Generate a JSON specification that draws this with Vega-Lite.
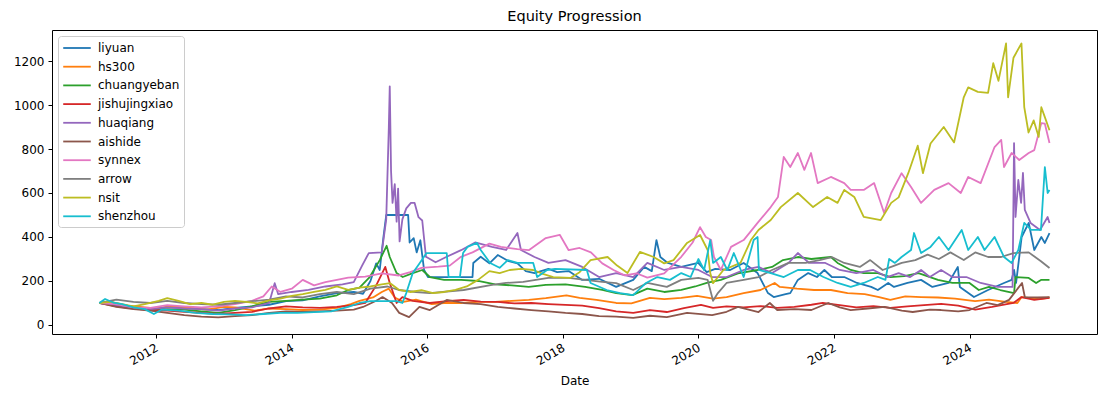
{
"$schema":"https://vega.github.io/schema/vega-lite/v6.json",
"width":1045,"height":304,
"autosize":{"type":"none"},
"padding":{"left":52,"top":30,"right":12,"bottom":61},
"background":"white",
"title":{"text":"Equity Progression","fontSize":14.5,"font":"DejaVu Sans","fontWeight":"normal","color":"#000","offset":6,"anchor":"middle"},
"config":{
 "view":{"stroke":"#000","strokeWidth":1},
 "axis":{"domain":false,"grid":false,"tickColor":"#000","tickSize":4,"tickWidth":1,"labelColor":"#000","labelFont":"DejaVu Sans","labelFontSize":12,"labelPadding":4,"titleFont":"DejaVu Sans","titleFontSize":12,"titleFontWeight":"normal","titleColor":"#000"},
 "legend":{"orient":"top-left","offset":6,"padding":4,"strokeColor":"#cccccc","fillColor":"rgba(255,255,255,0.8)","cornerRadius":3,"symbolType":"M-2,0H2","symbolSize":190,"symbolOffset":7,"symbolStrokeWidth":1.8,"labelFontSize":12,"labelFont":"DejaVu Sans","labelColor":"#000","rowPadding":4.7,"labelOffset":13,"labelLimit":200}
},
"data":{"values":[
{"s":"liyuan","d":"2011-03-01","v":100},{"s":"liyuan","d":"2011-05-01","v":105},{"s":"liyuan","d":"2011-07-01","v":92},{"s":"liyuan","d":"2011-09-01","v":80},{"s":"liyuan","d":"2011-11-01","v":78},{"s":"liyuan","d":"2011-12-20","v":68},{"s":"liyuan","d":"2012-03-01","v":82},{"s":"liyuan","d":"2012-06-01","v":78},{"s":"liyuan","d":"2012-09-01","v":72},{"s":"liyuan","d":"2012-12-01","v":68},{"s":"liyuan","d":"2013-03-01","v":78},{"s":"liyuan","d":"2013-06-01","v":85},{"s":"liyuan","d":"2013-09-01","v":92},{"s":"liyuan","d":"2013-12-01","v":108},{"s":"liyuan","d":"2014-03-01","v":112},{"s":"liyuan","d":"2014-06-01","v":130},{"s":"liyuan","d":"2014-09-01","v":145},{"s":"liyuan","d":"2014-12-01","v":150},{"s":"liyuan","d":"2015-01-20","v":142},{"s":"liyuan","d":"2015-03-01","v":200},{"s":"liyuan","d":"2015-04-01","v":280},{"s":"liyuan","d":"2015-04-20","v":250},{"s":"liyuan","d":"2015-05-10","v":400},{"s":"liyuan","d":"2015-05-25","v":500},{"s":"liyuan","d":"2015-09-20","v":500},{"s":"liyuan","d":"2015-09-28","v":375},{"s":"liyuan","d":"2015-10-20","v":395},{"s":"liyuan","d":"2015-11-05","v":330},{"s":"liyuan","d":"2015-11-25","v":385},{"s":"liyuan","d":"2015-12-15","v":250},{"s":"liyuan","d":"2016-01-05","v":218},{"s":"liyuan","d":"2016-09-01","v":218},{"s":"liyuan","d":"2016-09-05","v":282},{"s":"liyuan","d":"2016-10-15","v":310},{"s":"liyuan","d":"2016-12-01","v":280},{"s":"liyuan","d":"2017-01-15","v":318},{"s":"liyuan","d":"2017-03-15","v":290},{"s":"liyuan","d":"2017-05-01","v":280},{"s":"liyuan","d":"2017-06-15","v":245},{"s":"liyuan","d":"2017-08-01","v":236},{"s":"liyuan","d":"2017-10-15","v":255},{"s":"liyuan","d":"2017-12-01","v":240},{"s":"liyuan","d":"2018-02-01","v":245},{"s":"liyuan","d":"2018-04-15","v":205},{"s":"liyuan","d":"2018-07-15","v":210},{"s":"liyuan","d":"2018-10-15","v":173},{"s":"liyuan","d":"2019-01-15","v":205},{"s":"liyuan","d":"2019-03-15","v":264},{"s":"liyuan","d":"2019-04-25","v":245},{"s":"liyuan","d":"2019-05-20","v":386},{"s":"liyuan","d":"2019-06-10","v":309},{"s":"liyuan","d":"2019-07-20","v":282},{"s":"liyuan","d":"2019-10-01","v":264},{"s":"liyuan","d":"2019-12-31","v":282},{"s":"liyuan","d":"2020-02-15","v":240},{"s":"liyuan","d":"2020-04-01","v":255},{"s":"liyuan","d":"2020-06-20","v":250},{"s":"liyuan","d":"2020-09-01","v":282},{"s":"liyuan","d":"2020-11-15","v":236},{"s":"liyuan","d":"2021-01-10","v":145},{"s":"liyuan","d":"2021-02-10","v":127},{"s":"liyuan","d":"2021-04-15","v":140},{"s":"liyuan","d":"2021-05-10","v":145},{"s":"liyuan","d":"2021-06-20","v":205},{"s":"liyuan","d":"2021-08-15","v":236},{"s":"liyuan","d":"2021-10-01","v":218},{"s":"liyuan","d":"2021-11-10","v":250},{"s":"liyuan","d":"2021-12-20","v":218},{"s":"liyuan","d":"2022-02-25","v":218},{"s":"liyuan","d":"2022-05-05","v":191},{"s":"liyuan","d":"2022-07-20","v":173},{"s":"liyuan","d":"2022-08-25","v":159},{"s":"liyuan","d":"2022-10-20","v":191},{"s":"liyuan","d":"2022-11-20","v":173},{"s":"liyuan","d":"2023-02-01","v":191},{"s":"liyuan","d":"2023-04-15","v":205},{"s":"liyuan","d":"2023-06-15","v":173},{"s":"liyuan","d":"2023-09-10","v":191},{"s":"liyuan","d":"2023-10-30","v":264},{"s":"liyuan","d":"2023-11-10","v":173},{"s":"liyuan","d":"2024-01-25","v":127},{"s":"liyuan","d":"2024-04-10","v":159},{"s":"liyuan","d":"2024-07-05","v":191},{"s":"liyuan","d":"2024-08-15","v":205},{"s":"liyuan","d":"2024-08-28","v":250},{"s":"liyuan","d":"2024-09-08","v":191},{"s":"liyuan","d":"2024-10-08","v":400},{"s":"liyuan","d":"2024-11-15","v":464},{"s":"liyuan","d":"2024-12-15","v":341},{"s":"liyuan","d":"2025-01-22","v":400},{"s":"liyuan","d":"2025-02-10","v":373},{"s":"liyuan","d":"2025-03-07","v":418},
{"s":"hs300","d":"2011-03-01","v":100},{"s":"hs300","d":"2011-05-01","v":100},{"s":"hs300","d":"2011-08-01","v":88},{"s":"hs300","d":"2011-11-01","v":80},{"s":"hs300","d":"2012-01-01","v":75},{"s":"hs300","d":"2012-03-01","v":82},{"s":"hs300","d":"2012-05-01","v":82},{"s":"hs300","d":"2012-08-01","v":75},{"s":"hs300","d":"2012-10-01","v":70},{"s":"hs300","d":"2013-01-01","v":82},{"s":"hs300","d":"2013-03-01","v":80},{"s":"hs300","d":"2013-06-15","v":65},{"s":"hs300","d":"2013-09-01","v":75},{"s":"hs300","d":"2013-12-01","v":72},{"s":"hs300","d":"2014-03-01","v":68},{"s":"hs300","d":"2014-06-01","v":70},{"s":"hs300","d":"2014-09-01","v":78},{"s":"hs300","d":"2014-11-15","v":95},{"s":"hs300","d":"2015-01-01","v":110},{"s":"hs300","d":"2015-03-15","v":125},{"s":"hs300","d":"2015-05-01","v":150},{"s":"hs300","d":"2015-06-08","v":165},{"s":"hs300","d":"2015-07-10","v":125},{"s":"hs300","d":"2015-08-25","v":105},{"s":"hs300","d":"2015-11-01","v":115},{"s":"hs300","d":"2016-01-25","v":95},{"s":"hs300","d":"2016-04-01","v":100},{"s":"hs300","d":"2016-07-01","v":100},{"s":"hs300","d":"2016-10-01","v":105},{"s":"hs300","d":"2017-01-01","v":105},{"s":"hs300","d":"2017-04-01","v":110},{"s":"hs300","d":"2017-07-01","v":114},{"s":"hs300","d":"2017-10-01","v":122},{"s":"hs300","d":"2018-01-20","v":135},{"s":"hs300","d":"2018-04-01","v":123},{"s":"hs300","d":"2018-07-01","v":114},{"s":"hs300","d":"2018-10-15","v":100},{"s":"hs300","d":"2019-01-05","v":98},{"s":"hs300","d":"2019-04-15","v":123},{"s":"hs300","d":"2019-07-01","v":118},{"s":"hs300","d":"2019-10-01","v":123},{"s":"hs300","d":"2019-12-25","v":132},{"s":"hs300","d":"2020-03-20","v":120},{"s":"hs300","d":"2020-06-01","v":127},{"s":"hs300","d":"2020-09-01","v":145},{"s":"hs300","d":"2020-12-01","v":159},{"s":"hs300","d":"2021-02-15","v":191},{"s":"hs300","d":"2021-03-15","v":173},{"s":"hs300","d":"2021-06-15","v":165},{"s":"hs300","d":"2021-09-15","v":159},{"s":"hs300","d":"2021-12-15","v":159},{"s":"hs300","d":"2022-03-15","v":145},{"s":"hs300","d":"2022-06-15","v":140},{"s":"hs300","d":"2022-09-01","v":127},{"s":"hs300","d":"2022-10-31","v":114},{"s":"hs300","d":"2023-01-20","v":130},{"s":"hs300","d":"2023-04-15","v":127},{"s":"hs300","d":"2023-07-15","v":125},{"s":"hs300","d":"2023-10-15","v":120},{"s":"hs300","d":"2024-01-31","v":108},{"s":"hs300","d":"2024-04-15","v":115},{"s":"hs300","d":"2024-07-15","v":105},{"s":"hs300","d":"2024-09-15","v":100},{"s":"hs300","d":"2024-10-08","v":127},{"s":"hs300","d":"2024-11-15","v":123},{"s":"hs300","d":"2025-01-10","v":118},{"s":"hs300","d":"2025-03-07","v":125},
{"s":"chuangyeban","d":"2011-03-01","v":100},{"s":"chuangyeban","d":"2011-06-01","v":88},{"s":"chuangyeban","d":"2011-09-01","v":78},{"s":"chuangyeban","d":"2011-12-01","v":68},{"s":"chuangyeban","d":"2012-03-01","v":72},{"s":"chuangyeban","d":"2012-06-01","v":70},{"s":"chuangyeban","d":"2012-09-01","v":62},{"s":"chuangyeban","d":"2012-12-01","v":55},{"s":"chuangyeban","d":"2013-03-01","v":68},{"s":"chuangyeban","d":"2013-06-01","v":85},{"s":"chuangyeban","d":"2013-09-01","v":105},{"s":"chuangyeban","d":"2013-12-01","v":110},{"s":"chuangyeban","d":"2014-03-01","v":115},{"s":"chuangyeban","d":"2014-06-01","v":120},{"s":"chuangyeban","d":"2014-09-01","v":135},{"s":"chuangyeban","d":"2014-11-01","v":159},{"s":"chuangyeban","d":"2015-01-01","v":170},{"s":"chuangyeban","d":"2015-02-25","v":218},{"s":"chuangyeban","d":"2015-04-20","v":295},{"s":"chuangyeban","d":"2015-05-27","v":360},{"s":"chuangyeban","d":"2015-06-13","v":309},{"s":"chuangyeban","d":"2015-07-20","v":236},{"s":"chuangyeban","d":"2015-08-22","v":218},{"s":"chuangyeban","d":"2015-10-15","v":236},{"s":"chuangyeban","d":"2015-12-05","v":250},{"s":"chuangyeban","d":"2016-01-15","v":218},{"s":"chuangyeban","d":"2016-04-01","v":205},{"s":"chuangyeban","d":"2016-07-01","v":205},{"s":"chuangyeban","d":"2016-10-01","v":200},{"s":"chuangyeban","d":"2017-01-01","v":185},{"s":"chuangyeban","d":"2017-04-01","v":180},{"s":"chuangyeban","d":"2017-07-01","v":173},{"s":"chuangyeban","d":"2017-10-01","v":182},{"s":"chuangyeban","d":"2018-01-15","v":185},{"s":"chuangyeban","d":"2018-05-01","v":173},{"s":"chuangyeban","d":"2018-08-01","v":160},{"s":"chuangyeban","d":"2018-10-15","v":145},{"s":"chuangyeban","d":"2019-01-10","v":136},{"s":"chuangyeban","d":"2019-04-01","v":165},{"s":"chuangyeban","d":"2019-07-01","v":150},{"s":"chuangyeban","d":"2019-10-01","v":160},{"s":"chuangyeban","d":"2019-12-15","v":175},{"s":"chuangyeban","d":"2020-02-15","v":191},{"s":"chuangyeban","d":"2020-05-01","v":205},{"s":"chuangyeban","d":"2020-08-01","v":235},{"s":"chuangyeban","d":"2020-11-15","v":250},{"s":"chuangyeban","d":"2021-02-01","v":264},{"s":"chuangyeban","d":"2021-04-01","v":295},{"s":"chuangyeban","d":"2021-06-20","v":309},{"s":"chuangyeban","d":"2021-09-01","v":300},{"s":"chuangyeban","d":"2021-12-15","v":309},{"s":"chuangyeban","d":"2022-01-20","v":282},{"s":"chuangyeban","d":"2022-04-01","v":250},{"s":"chuangyeban","d":"2022-06-10","v":236},{"s":"chuangyeban","d":"2022-08-25","v":236},{"s":"chuangyeban","d":"2022-11-01","v":218},{"s":"chuangyeban","d":"2023-01-15","v":222},{"s":"chuangyeban","d":"2023-04-01","v":236},{"s":"chuangyeban","d":"2023-07-15","v":205},{"s":"chuangyeban","d":"2023-10-01","v":191},{"s":"chuangyeban","d":"2024-01-01","v":191},{"s":"chuangyeban","d":"2024-02-20","v":159},{"s":"chuangyeban","d":"2024-04-15","v":173},{"s":"chuangyeban","d":"2024-06-15","v":159},{"s":"chuangyeban","d":"2024-08-28","v":145},{"s":"chuangyeban","d":"2024-09-05","v":218},{"s":"chuangyeban","d":"2024-11-15","v":214},{"s":"chuangyeban","d":"2024-12-25","v":191},{"s":"chuangyeban","d":"2025-01-20","v":205},{"s":"chuangyeban","d":"2025-03-07","v":205},
{"s":"jishujingxiao","d":"2011-03-01","v":100},{"s":"jishujingxiao","d":"2011-06-01","v":85},{"s":"jishujingxiao","d":"2011-09-01","v":75},{"s":"jishujingxiao","d":"2011-12-01","v":68},{"s":"jishujingxiao","d":"2012-03-01","v":65},{"s":"jishujingxiao","d":"2012-06-01","v":60},{"s":"jishujingxiao","d":"2012-09-01","v":55},{"s":"jishujingxiao","d":"2012-12-01","v":50},{"s":"jishujingxiao","d":"2013-03-01","v":55},{"s":"jishujingxiao","d":"2013-06-01","v":60},{"s":"jishujingxiao","d":"2013-09-01","v":75},{"s":"jishujingxiao","d":"2013-12-01","v":85},{"s":"jishujingxiao","d":"2014-03-01","v":80},{"s":"jishujingxiao","d":"2014-06-01","v":78},{"s":"jishujingxiao","d":"2014-09-01","v":82},{"s":"jishujingxiao","d":"2014-12-01","v":90},{"s":"jishujingxiao","d":"2015-02-01","v":100},{"s":"jishujingxiao","d":"2015-04-01","v":180},{"s":"jishujingxiao","d":"2015-05-20","v":264},{"s":"jishujingxiao","d":"2015-06-13","v":191},{"s":"jishujingxiao","d":"2015-07-20","v":100},{"s":"jishujingxiao","d":"2015-08-20","v":127},{"s":"jishujingxiao","d":"2015-10-15","v":110},{"s":"jishujingxiao","d":"2016-01-15","v":100},{"s":"jishujingxiao","d":"2016-04-15","v":108},{"s":"jishujingxiao","d":"2016-07-15","v":114},{"s":"jishujingxiao","d":"2016-10-15","v":106},{"s":"jishujingxiao","d":"2017-01-15","v":105},{"s":"jishujingxiao","d":"2017-04-15","v":98},{"s":"jishujingxiao","d":"2017-07-15","v":100},{"s":"jishujingxiao","d":"2017-10-15","v":95},{"s":"jishujingxiao","d":"2018-01-15","v":91},{"s":"jishujingxiao","d":"2018-04-15","v":88},{"s":"jishujingxiao","d":"2018-07-15","v":77},{"s":"jishujingxiao","d":"2018-10-15","v":62},{"s":"jishujingxiao","d":"2019-01-15","v":55},{"s":"jishujingxiao","d":"2019-04-15","v":68},{"s":"jishujingxiao","d":"2019-07-15","v":59},{"s":"jishujingxiao","d":"2019-10-15","v":77},{"s":"jishujingxiao","d":"2020-01-15","v":91},{"s":"jishujingxiao","d":"2020-03-20","v":78},{"s":"jishujingxiao","d":"2020-06-01","v":85},{"s":"jishujingxiao","d":"2020-09-01","v":80},{"s":"jishujingxiao","d":"2020-12-01","v":86},{"s":"jishujingxiao","d":"2021-03-01","v":78},{"s":"jishujingxiao","d":"2021-06-01","v":82},{"s":"jishujingxiao","d":"2021-09-01","v":92},{"s":"jishujingxiao","d":"2021-11-01","v":100},{"s":"jishujingxiao","d":"2022-02-01","v":90},{"s":"jishujingxiao","d":"2022-05-01","v":80},{"s":"jishujingxiao","d":"2022-08-01","v":86},{"s":"jishujingxiao","d":"2022-11-01","v":78},{"s":"jishujingxiao","d":"2023-02-01","v":85},{"s":"jishujingxiao","d":"2023-05-01","v":90},{"s":"jishujingxiao","d":"2023-08-01","v":96},{"s":"jishujingxiao","d":"2023-11-01","v":88},{"s":"jishujingxiao","d":"2024-02-01","v":70},{"s":"jishujingxiao","d":"2024-05-01","v":82},{"s":"jishujingxiao","d":"2024-08-25","v":100},{"s":"jishujingxiao","d":"2024-10-07","v":127},{"s":"jishujingxiao","d":"2024-12-15","v":114},{"s":"jishujingxiao","d":"2025-03-07","v":123},
{"s":"huaqiang","d":"2011-03-01","v":100},{"s":"huaqiang","d":"2011-06-01","v":90},{"s":"huaqiang","d":"2011-09-01","v":78},{"s":"huaqiang","d":"2011-12-01","v":72},{"s":"huaqiang","d":"2012-03-01","v":80},{"s":"huaqiang","d":"2012-06-01","v":75},{"s":"huaqiang","d":"2012-09-01","v":72},{"s":"huaqiang","d":"2012-12-01","v":65},{"s":"huaqiang","d":"2013-03-01","v":75},{"s":"huaqiang","d":"2013-06-01","v":80},{"s":"huaqiang","d":"2013-09-01","v":100},{"s":"huaqiang","d":"2013-10-01","v":190},{"s":"huaqiang","d":"2013-10-20","v":140},{"s":"huaqiang","d":"2014-01-01","v":150},{"s":"huaqiang","d":"2014-04-01","v":160},{"s":"huaqiang","d":"2014-07-01","v":175},{"s":"huaqiang","d":"2014-10-01","v":185},{"s":"huaqiang","d":"2014-12-01","v":195},{"s":"huaqiang","d":"2015-01-15","v":270},{"s":"huaqiang","d":"2015-02-20","v":327},{"s":"huaqiang","d":"2015-05-01","v":330},{"s":"huaqiang","d":"2015-05-25","v":480},{"s":"huaqiang","d":"2015-06-08","v":900},{"s":"huaqiang","d":"2015-06-13","v":1085},{"s":"huaqiang","d":"2015-06-20","v":700},{"s":"huaqiang","d":"2015-06-28","v":555},{"s":"huaqiang","d":"2015-07-10","v":640},{"s":"huaqiang","d":"2015-07-20","v":470},{"s":"huaqiang","d":"2015-07-28","v":620},{"s":"huaqiang","d":"2015-08-05","v":380},{"s":"huaqiang","d":"2015-08-20","v":480},{"s":"huaqiang","d":"2015-09-10","v":530},{"s":"huaqiang","d":"2015-10-05","v":555},{"s":"huaqiang","d":"2015-10-25","v":555},{"s":"huaqiang","d":"2015-11-15","v":490},{"s":"huaqiang","d":"2015-12-05","v":475},{"s":"huaqiang","d":"2015-12-25","v":310},{"s":"huaqiang","d":"2016-02-15","v":285},{"s":"huaqiang","d":"2016-04-15","v":310},{"s":"huaqiang","d":"2016-07-01","v":340},{"s":"huaqiang","d":"2016-09-15","v":375},{"s":"huaqiang","d":"2016-12-15","v":355},{"s":"huaqiang","d":"2017-03-01","v":341},{"s":"huaqiang","d":"2017-05-01","v":418},{"s":"huaqiang","d":"2017-05-20","v":341},{"s":"huaqiang","d":"2017-08-01","v":309},{"s":"huaqiang","d":"2017-10-15","v":282},{"s":"huaqiang","d":"2018-01-15","v":295},{"s":"huaqiang","d":"2018-04-15","v":264},{"s":"huaqiang","d":"2018-07-15","v":218},{"s":"huaqiang","d":"2018-10-15","v":236},{"s":"huaqiang","d":"2019-01-15","v":218},{"s":"huaqiang","d":"2019-04-01","v":282},{"s":"huaqiang","d":"2019-07-01","v":250},{"s":"huaqiang","d":"2019-09-30","v":264},{"s":"huaqiang","d":"2020-01-01","v":250},{"s":"huaqiang","d":"2020-03-15","v":218},{"s":"huaqiang","d":"2020-06-01","v":218},{"s":"huaqiang","d":"2020-09-01","v":250},{"s":"huaqiang","d":"2020-11-20","v":264},{"s":"huaqiang","d":"2021-02-01","v":236},{"s":"huaqiang","d":"2021-05-01","v":282},{"s":"huaqiang","d":"2021-06-20","v":327},{"s":"huaqiang","d":"2021-08-20","v":282},{"s":"huaqiang","d":"2021-11-15","v":282},{"s":"huaqiang","d":"2022-02-01","v":250},{"s":"huaqiang","d":"2022-05-01","v":236},{"s":"huaqiang","d":"2022-08-01","v":250},{"s":"huaqiang","d":"2022-10-15","v":218},{"s":"huaqiang","d":"2022-12-15","v":236},{"s":"huaqiang","d":"2023-02-15","v":218},{"s":"huaqiang","d":"2023-04-15","v":250},{"s":"huaqiang","d":"2023-06-01","v":218},{"s":"huaqiang","d":"2023-08-01","v":250},{"s":"huaqiang","d":"2023-10-01","v":218},{"s":"huaqiang","d":"2023-12-15","v":218},{"s":"huaqiang","d":"2024-03-01","v":191},{"s":"huaqiang","d":"2024-06-01","v":173},{"s":"huaqiang","d":"2024-08-20","v":173},{"s":"huaqiang","d":"2024-08-28","v":827},{"s":"huaqiang","d":"2024-09-05","v":491},{"s":"huaqiang","d":"2024-09-20","v":659},{"s":"huaqiang","d":"2024-10-05","v":555},{"s":"huaqiang","d":"2024-10-15","v":691},{"s":"huaqiang","d":"2024-10-25","v":523},{"s":"huaqiang","d":"2024-11-25","v":464},{"s":"huaqiang","d":"2025-01-15","v":432},{"s":"huaqiang","d":"2025-02-25","v":491},{"s":"huaqiang","d":"2025-03-07","v":464},
{"s":"aishide","d":"2011-03-01","v":100},{"s":"aishide","d":"2011-06-01","v":82},{"s":"aishide","d":"2011-09-01","v":72},{"s":"aishide","d":"2011-12-01","v":65},{"s":"aishide","d":"2012-03-01","v":55},{"s":"aishide","d":"2012-06-01","v":45},{"s":"aishide","d":"2012-09-01","v":38},{"s":"aishide","d":"2012-12-01","v":35},{"s":"aishide","d":"2013-03-01","v":40},{"s":"aishide","d":"2013-06-01","v":45},{"s":"aishide","d":"2013-09-01","v":55},{"s":"aishide","d":"2013-12-01","v":62},{"s":"aishide","d":"2014-03-01","v":60},{"s":"aishide","d":"2014-06-01","v":62},{"s":"aishide","d":"2014-09-01","v":65},{"s":"aishide","d":"2014-12-01","v":70},{"s":"aishide","d":"2015-01-20","v":82},{"s":"aishide","d":"2015-04-01","v":110},{"s":"aishide","d":"2015-05-05","v":127},{"s":"aishide","d":"2015-06-25","v":100},{"s":"aishide","d":"2015-08-03","v":55},{"s":"aishide","d":"2015-09-25","v":36},{"s":"aishide","d":"2015-11-20","v":82},{"s":"aishide","d":"2016-01-15","v":68},{"s":"aishide","d":"2016-04-15","v":114},{"s":"aishide","d":"2016-07-15","v":100},{"s":"aishide","d":"2016-10-15","v":95},{"s":"aishide","d":"2017-01-15","v":82},{"s":"aishide","d":"2017-04-15","v":75},{"s":"aishide","d":"2017-07-15","v":68},{"s":"aishide","d":"2017-10-15","v":62},{"s":"aishide","d":"2018-01-15","v":55},{"s":"aishide","d":"2018-04-15","v":50},{"s":"aishide","d":"2018-07-15","v":40},{"s":"aishide","d":"2018-10-15","v":38},{"s":"aishide","d":"2019-01-15","v":32},{"s":"aishide","d":"2019-04-15","v":42},{"s":"aishide","d":"2019-07-15","v":36},{"s":"aishide","d":"2019-11-01","v":55},{"s":"aishide","d":"2020-03-15","v":45},{"s":"aishide","d":"2020-06-01","v":60},{"s":"aishide","d":"2020-08-01","v":82},{"s":"aishide","d":"2020-11-20","v":59},{"s":"aishide","d":"2021-01-20","v":100},{"s":"aishide","d":"2021-03-01","v":68},{"s":"aishide","d":"2021-06-01","v":72},{"s":"aishide","d":"2021-09-01","v":68},{"s":"aishide","d":"2021-12-01","v":100},{"s":"aishide","d":"2022-02-01","v":80},{"s":"aishide","d":"2022-04-01","v":68},{"s":"aishide","d":"2022-07-01","v":75},{"s":"aishide","d":"2022-10-01","v":82},{"s":"aishide","d":"2023-01-01","v":65},{"s":"aishide","d":"2023-03-01","v":59},{"s":"aishide","d":"2023-06-01","v":70},{"s":"aishide","d":"2023-08-01","v":68},{"s":"aishide","d":"2023-11-01","v":62},{"s":"aishide","d":"2024-01-01","v":68},{"s":"aishide","d":"2024-04-01","v":100},{"s":"aishide","d":"2024-06-01","v":90},{"s":"aishide","d":"2024-08-01","v":114},{"s":"aishide","d":"2024-10-10","v":191},{"s":"aishide","d":"2024-10-25","v":127},{"s":"aishide","d":"2025-01-01","v":125},{"s":"aishide","d":"2025-03-07","v":127},
{"s":"synnex","d":"2011-03-01","v":100},{"s":"synnex","d":"2011-06-01","v":95},{"s":"synnex","d":"2011-09-01","v":80},{"s":"synnex","d":"2011-12-01","v":78},{"s":"synnex","d":"2012-03-01","v":90},{"s":"synnex","d":"2012-06-01","v":85},{"s":"synnex","d":"2012-09-01","v":80},{"s":"synnex","d":"2012-12-01","v":85},{"s":"synnex","d":"2013-03-01","v":95},{"s":"synnex","d":"2013-06-01","v":110},{"s":"synnex","d":"2013-08-01","v":130},{"s":"synnex","d":"2013-09-15","v":175},{"s":"synnex","d":"2013-11-01","v":150},{"s":"synnex","d":"2014-01-01","v":165},{"s":"synnex","d":"2014-03-01","v":205},{"s":"synnex","d":"2014-05-01","v":180},{"s":"synnex","d":"2014-07-01","v":195},{"s":"synnex","d":"2014-09-01","v":205},{"s":"synnex","d":"2014-11-01","v":215},{"s":"synnex","d":"2015-02-01","v":220},{"s":"synnex","d":"2015-05-01","v":235},{"s":"synnex","d":"2015-08-01","v":225},{"s":"synnex","d":"2015-10-01","v":240},{"s":"synnex","d":"2015-12-01","v":260},{"s":"synnex","d":"2016-03-01","v":265},{"s":"synnex","d":"2016-05-01","v":270},{"s":"synnex","d":"2016-07-01","v":310},{"s":"synnex","d":"2016-09-01","v":330},{"s":"synnex","d":"2016-12-01","v":370},{"s":"synnex","d":"2017-02-01","v":355},{"s":"synnex","d":"2017-05-01","v":345},{"s":"synnex","d":"2017-07-01","v":340},{"s":"synnex","d":"2017-10-01","v":395},{"s":"synnex","d":"2017-12-15","v":410},{"s":"synnex","d":"2018-02-01","v":340},{"s":"synnex","d":"2018-04-01","v":350},{"s":"synnex","d":"2018-06-01","v":330},{"s":"synnex","d":"2018-08-01","v":280},{"s":"synnex","d":"2018-10-01","v":250},{"s":"synnex","d":"2018-12-01","v":225},{"s":"synnex","d":"2019-02-01","v":235},{"s":"synnex","d":"2019-04-01","v":215},{"s":"synnex","d":"2019-07-01","v":235},{"s":"synnex","d":"2019-10-01","v":310},{"s":"synnex","d":"2019-12-01","v":375},{"s":"synnex","d":"2020-01-10","v":445},{"s":"synnex","d":"2020-02-10","v":400},{"s":"synnex","d":"2020-03-10","v":386},{"s":"synnex","d":"2020-03-25","v":309},{"s":"synnex","d":"2020-05-01","v":250},{"s":"synnex","d":"2020-06-25","v":355},{"s":"synnex","d":"2020-09-01","v":386},{"s":"synnex","d":"2020-11-15","v":464},{"s":"synnex","d":"2021-01-25","v":536},{"s":"synnex","d":"2021-03-05","v":582},{"s":"synnex","d":"2021-04-05","v":764},{"s":"synnex","d":"2021-05-10","v":718},{"s":"synnex","d":"2021-06-20","v":782},{"s":"synnex","d":"2021-07-25","v":705},{"s":"synnex","d":"2021-08-30","v":782},{"s":"synnex","d":"2021-10-05","v":645},{"s":"synnex","d":"2021-12-15","v":673},{"s":"synnex","d":"2022-02-25","v":645},{"s":"synnex","d":"2022-04-01","v":614},{"s":"synnex","d":"2022-06-10","v":614},{"s":"synnex","d":"2022-08-05","v":645},{"s":"synnex","d":"2022-09-28","v":509},{"s":"synnex","d":"2022-11-05","v":600},{"s":"synnex","d":"2022-12-31","v":690},{"s":"synnex","d":"2023-02-20","v":627},{"s":"synnex","d":"2023-04-15","v":555},{"s":"synnex","d":"2023-06-25","v":614},{"s":"synnex","d":"2023-09-10","v":645},{"s":"synnex","d":"2023-11-15","v":600},{"s":"synnex","d":"2023-12-25","v":673},{"s":"synnex","d":"2024-03-01","v":645},{"s":"synnex","d":"2024-05-15","v":809},{"s":"synnex","d":"2024-06-20","v":841},{"s":"synnex","d":"2024-07-05","v":718},{"s":"synnex","d":"2024-08-15","v":782},{"s":"synnex","d":"2024-09-25","v":750},{"s":"synnex","d":"2024-11-15","v":782},{"s":"synnex","d":"2024-12-15","v":795},{"s":"synnex","d":"2025-01-22","v":918},{"s":"synnex","d":"2025-02-10","v":915},{"s":"synnex","d":"2025-03-07","v":827},
{"s":"arrow","d":"2011-03-01","v":100},{"s":"arrow","d":"2011-06-01","v":115},{"s":"arrow","d":"2011-09-01","v":105},{"s":"arrow","d":"2011-12-01","v":100},{"s":"arrow","d":"2012-03-01","v":110},{"s":"arrow","d":"2012-06-01","v":100},{"s":"arrow","d":"2012-09-01","v":95},{"s":"arrow","d":"2012-12-01","v":92},{"s":"arrow","d":"2013-03-01","v":100},{"s":"arrow","d":"2013-06-01","v":108},{"s":"arrow","d":"2013-09-01","v":115},{"s":"arrow","d":"2013-12-01","v":130},{"s":"arrow","d":"2014-03-01","v":125},{"s":"arrow","d":"2014-06-01","v":140},{"s":"arrow","d":"2014-09-01","v":150},{"s":"arrow","d":"2014-12-01","v":140},{"s":"arrow","d":"2015-03-01","v":165},{"s":"arrow","d":"2015-06-01","v":175},{"s":"arrow","d":"2015-08-01","v":159},{"s":"arrow","d":"2015-11-01","v":150},{"s":"arrow","d":"2016-01-15","v":145},{"s":"arrow","d":"2016-07-15","v":159},{"s":"arrow","d":"2016-12-15","v":182},{"s":"arrow","d":"2017-03-01","v":191},{"s":"arrow","d":"2017-06-01","v":196},{"s":"arrow","d":"2017-10-15","v":214},{"s":"arrow","d":"2018-02-01","v":214},{"s":"arrow","d":"2018-05-01","v":205},{"s":"arrow","d":"2018-08-01","v":196},{"s":"arrow","d":"2018-10-15","v":190},{"s":"arrow","d":"2019-01-15","v":159},{"s":"arrow","d":"2019-04-01","v":191},{"s":"arrow","d":"2019-07-15","v":173},{"s":"arrow","d":"2019-10-01","v":205},{"s":"arrow","d":"2020-01-01","v":214},{"s":"arrow","d":"2020-02-20","v":205},{"s":"arrow","d":"2020-03-20","v":110},{"s":"arrow","d":"2020-04-15","v":145},{"s":"arrow","d":"2020-06-01","v":191},{"s":"arrow","d":"2020-09-01","v":205},{"s":"arrow","d":"2020-11-20","v":218},{"s":"arrow","d":"2021-02-01","v":250},{"s":"arrow","d":"2021-05-01","v":282},{"s":"arrow","d":"2021-08-01","v":282},{"s":"arrow","d":"2021-10-15","v":295},{"s":"arrow","d":"2021-12-20","v":309},{"s":"arrow","d":"2022-02-25","v":282},{"s":"arrow","d":"2022-05-20","v":264},{"s":"arrow","d":"2022-07-15","v":295},{"s":"arrow","d":"2022-09-20","v":250},{"s":"arrow","d":"2022-11-05","v":264},{"s":"arrow","d":"2023-01-01","v":282},{"s":"arrow","d":"2023-03-15","v":295},{"s":"arrow","d":"2023-05-20","v":320},{"s":"arrow","d":"2023-07-20","v":300},{"s":"arrow","d":"2023-09-20","v":330},{"s":"arrow","d":"2023-12-01","v":295},{"s":"arrow","d":"2024-02-01","v":330},{"s":"arrow","d":"2024-04-10","v":309},{"s":"arrow","d":"2024-06-20","v":309},{"s":"arrow","d":"2024-08-25","v":327},{"s":"arrow","d":"2024-11-15","v":330},{"s":"arrow","d":"2025-01-20","v":290},{"s":"arrow","d":"2025-03-07","v":259},
{"s":"nsit","d":"2011-03-01","v":100},{"s":"nsit","d":"2011-05-01","v":105},{"s":"nsit","d":"2011-07-01","v":95},{"s":"nsit","d":"2011-09-01","v":85},{"s":"nsit","d":"2011-11-01","v":95},{"s":"nsit","d":"2012-01-15","v":110},{"s":"nsit","d":"2012-03-01","v":122},{"s":"nsit","d":"2012-05-01","v":110},{"s":"nsit","d":"2012-07-01","v":95},{"s":"nsit","d":"2012-09-01","v":100},{"s":"nsit","d":"2012-11-01","v":92},{"s":"nsit","d":"2013-01-01","v":105},{"s":"nsit","d":"2013-03-01","v":110},{"s":"nsit","d":"2013-05-01","v":105},{"s":"nsit","d":"2013-07-01","v":98},{"s":"nsit","d":"2013-09-01","v":112},{"s":"nsit","d":"2013-11-01","v":120},{"s":"nsit","d":"2014-01-01","v":132},{"s":"nsit","d":"2014-03-01","v":140},{"s":"nsit","d":"2014-05-01","v":150},{"s":"nsit","d":"2014-07-01","v":160},{"s":"nsit","d":"2014-09-01","v":175},{"s":"nsit","d":"2014-11-01","v":160},{"s":"nsit","d":"2015-01-01","v":170},{"s":"nsit","d":"2015-03-01","v":175},{"s":"nsit","d":"2015-05-01","v":185},{"s":"nsit","d":"2015-06-15","v":190},{"s":"nsit","d":"2015-08-01","v":160},{"s":"nsit","d":"2015-10-01","v":150},{"s":"nsit","d":"2015-12-01","v":158},{"s":"nsit","d":"2016-02-01","v":145},{"s":"nsit","d":"2016-04-01","v":150},{"s":"nsit","d":"2016-06-01","v":160},{"s":"nsit","d":"2016-08-01","v":175},{"s":"nsit","d":"2016-10-01","v":205},{"s":"nsit","d":"2016-12-01","v":245},{"s":"nsit","d":"2017-01-25","v":236},{"s":"nsit","d":"2017-03-20","v":250},{"s":"nsit","d":"2017-05-20","v":255},{"s":"nsit","d":"2017-07-25","v":250},{"s":"nsit","d":"2017-09-15","v":232},{"s":"nsit","d":"2017-11-10","v":218},{"s":"nsit","d":"2018-02-10","v":214},{"s":"nsit","d":"2018-04-01","v":240},{"s":"nsit","d":"2018-05-30","v":295},{"s":"nsit","d":"2018-08-30","v":309},{"s":"nsit","d":"2018-10-20","v":270},{"s":"nsit","d":"2018-12-15","v":236},{"s":"nsit","d":"2019-02-20","v":332},{"s":"nsit","d":"2019-05-05","v":309},{"s":"nsit","d":"2019-07-01","v":280},{"s":"nsit","d":"2019-08-20","v":295},{"s":"nsit","d":"2019-11-01","v":373},{"s":"nsit","d":"2020-01-10","v":409},{"s":"nsit","d":"2020-02-20","v":341},{"s":"nsit","d":"2020-03-05","v":236},{"s":"nsit","d":"2020-03-20","v":190},{"s":"nsit","d":"2020-05-15","v":250},{"s":"nsit","d":"2020-08-15","v":282},{"s":"nsit","d":"2020-10-10","v":386},{"s":"nsit","d":"2020-11-20","v":432},{"s":"nsit","d":"2021-01-25","v":477},{"s":"nsit","d":"2021-03-20","v":536},{"s":"nsit","d":"2021-06-20","v":600},{"s":"nsit","d":"2021-09-10","v":536},{"s":"nsit","d":"2021-11-25","v":582},{"s":"nsit","d":"2022-01-20","v":555},{"s":"nsit","d":"2022-02-25","v":614},{"s":"nsit","d":"2022-04-20","v":582},{"s":"nsit","d":"2022-06-10","v":491},{"s":"nsit","d":"2022-09-10","v":477},{"s":"nsit","d":"2022-11-05","v":555},{"s":"nsit","d":"2022-12-15","v":580},{"s":"nsit","d":"2023-02-05","v":690},{"s":"nsit","d":"2023-03-28","v":815},{"s":"nsit","d":"2023-04-25","v":690},{"s":"nsit","d":"2023-06-05","v":825},{"s":"nsit","d":"2023-08-15","v":900},{"s":"nsit","d":"2023-10-10","v":830},{"s":"nsit","d":"2023-12-01","v":1035},{"s":"nsit","d":"2023-12-25","v":1080},{"s":"nsit","d":"2024-02-15","v":1060},{"s":"nsit","d":"2024-04-10","v":1055},{"s":"nsit","d":"2024-05-08","v":1190},{"s":"nsit","d":"2024-06-05","v":1110},{"s":"nsit","d":"2024-07-16","v":1280},{"s":"nsit","d":"2024-07-27","v":1035},{"s":"nsit","d":"2024-08-25","v":1215},{"s":"nsit","d":"2024-10-07","v":1280},{"s":"nsit","d":"2024-10-22","v":990},{"s":"nsit","d":"2024-11-14","v":875},{"s":"nsit","d":"2024-12-12","v":930},{"s":"nsit","d":"2025-01-08","v":855},{"s":"nsit","d":"2025-01-22","v":990},{"s":"nsit","d":"2025-02-10","v":945},{"s":"nsit","d":"2025-03-07","v":885},
{"s":"shenzhou","d":"2011-03-01","v":100},{"s":"shenzhou","d":"2011-04-01","v":118},{"s":"shenzhou","d":"2011-05-15","v":102},{"s":"shenzhou","d":"2011-07-01","v":95},{"s":"shenzhou","d":"2011-09-01","v":80},{"s":"shenzhou","d":"2011-11-01","v":72},{"s":"shenzhou","d":"2011-12-20","v":50},{"s":"shenzhou","d":"2012-02-01","v":70},{"s":"shenzhou","d":"2012-05-01","v":65},{"s":"shenzhou","d":"2012-08-01","v":55},{"s":"shenzhou","d":"2012-11-01","v":50},{"s":"shenzhou","d":"2013-02-01","v":48},{"s":"shenzhou","d":"2013-05-01","v":45},{"s":"shenzhou","d":"2013-08-01","v":50},{"s":"shenzhou","d":"2013-11-01","v":55},{"s":"shenzhou","d":"2014-02-01","v":55},{"s":"shenzhou","d":"2014-05-01","v":58},{"s":"shenzhou","d":"2014-08-01","v":62},{"s":"shenzhou","d":"2014-11-01","v":82},{"s":"shenzhou","d":"2015-01-01","v":100},{"s":"shenzhou","d":"2015-03-01","v":108},{"s":"shenzhou","d":"2015-07-20","v":108},{"s":"shenzhou","d":"2015-08-20","v":100},{"s":"shenzhou","d":"2015-09-10","v":145},{"s":"shenzhou","d":"2015-10-15","v":236},{"s":"shenzhou","d":"2015-11-20","v":280},{"s":"shenzhou","d":"2015-12-28","v":327},{"s":"shenzhou","d":"2016-04-15","v":327},{"s":"shenzhou","d":"2016-04-25","v":218},{"s":"shenzhou","d":"2016-06-25","v":218},{"s":"shenzhou","d":"2016-07-12","v":327},{"s":"shenzhou","d":"2016-08-05","v":355},{"s":"shenzhou","d":"2016-09-25","v":373},{"s":"shenzhou","d":"2016-10-15","v":341},{"s":"shenzhou","d":"2016-12-05","v":282},{"s":"shenzhou","d":"2017-01-25","v":260},{"s":"shenzhou","d":"2017-03-10","v":295},{"s":"shenzhou","d":"2017-05-01","v":282},{"s":"shenzhou","d":"2017-07-25","v":282},{"s":"shenzhou","d":"2017-08-15","v":218},{"s":"shenzhou","d":"2017-10-08","v":250},{"s":"shenzhou","d":"2017-11-20","v":255},{"s":"shenzhou","d":"2018-05-10","v":250},{"s":"shenzhou","d":"2018-05-30","v":191},{"s":"shenzhou","d":"2018-08-25","v":159},{"s":"shenzhou","d":"2018-11-05","v":145},{"s":"shenzhou","d":"2019-01-15","v":136},{"s":"shenzhou","d":"2019-03-25","v":191},{"s":"shenzhou","d":"2019-05-25","v":218},{"s":"shenzhou","d":"2019-08-01","v":205},{"s":"shenzhou","d":"2019-10-01","v":236},{"s":"shenzhou","d":"2019-11-20","v":218},{"s":"shenzhou","d":"2020-01-01","v":300},{"s":"shenzhou","d":"2020-02-01","v":250},{"s":"shenzhou","d":"2020-03-05","v":386},{"s":"shenzhou","d":"2020-03-20","v":282},{"s":"shenzhou","d":"2020-05-01","v":309},{"s":"shenzhou","d":"2020-06-05","v":250},{"s":"shenzhou","d":"2020-07-10","v":327},{"s":"shenzhou","d":"2020-09-01","v":218},{"s":"shenzhou","d":"2020-10-25","v":386},{"s":"shenzhou","d":"2020-11-15","v":400},{"s":"shenzhou","d":"2020-11-22","v":250},{"s":"shenzhou","d":"2021-01-25","v":236},{"s":"shenzhou","d":"2021-04-05","v":218},{"s":"shenzhou","d":"2021-06-20","v":250},{"s":"shenzhou","d":"2021-08-25","v":250},{"s":"shenzhou","d":"2021-11-05","v":218},{"s":"shenzhou","d":"2022-01-20","v":191},{"s":"shenzhou","d":"2022-04-01","v":173},{"s":"shenzhou","d":"2022-06-10","v":191},{"s":"shenzhou","d":"2022-08-25","v":218},{"s":"shenzhou","d":"2022-10-05","v":205},{"s":"shenzhou","d":"2022-10-25","v":300},{"s":"shenzhou","d":"2022-11-25","v":282},{"s":"shenzhou","d":"2022-12-31","v":309},{"s":"shenzhou","d":"2023-02-20","v":341},{"s":"shenzhou","d":"2023-03-08","v":418},{"s":"shenzhou","d":"2023-04-15","v":327},{"s":"shenzhou","d":"2023-06-05","v":355},{"s":"shenzhou","d":"2023-07-20","v":400},{"s":"shenzhou","d":"2023-09-10","v":341},{"s":"shenzhou","d":"2023-11-20","v":432},{"s":"shenzhou","d":"2023-12-25","v":341},{"s":"shenzhou","d":"2024-02-15","v":400},{"s":"shenzhou","d":"2024-03-22","v":341},{"s":"shenzhou","d":"2024-05-15","v":400},{"s":"shenzhou","d":"2024-07-05","v":309},{"s":"shenzhou","d":"2024-08-15","v":282},{"s":"shenzhou","d":"2024-09-20","v":341},{"s":"shenzhou","d":"2024-10-22","v":464},{"s":"shenzhou","d":"2024-11-28","v":432},{"s":"shenzhou","d":"2025-01-20","v":432},{"s":"shenzhou","d":"2025-02-10","v":718},{"s":"shenzhou","d":"2025-02-25","v":600},{"s":"shenzhou","d":"2025-03-07","v":614}
]},
"mark":{"type":"line","strokeWidth":1.8,"strokeJoin":"round"},
"encoding":{
 "x":{"field":"d","type":"temporal","scale":{"type":"utc","domain":[{"year":2010,"month":6,"date":19,"utc":true},{"year":2025,"month":11,"date":18,"utc":true}]},
  "axis":{"title":"Date","format":"%Y","labelAngle":-30,"labelAlign":"right","labelBaseline":"top","labelOverlap":false,"labelOffset":-2,"titleY":50,"titleBaseline":"alphabetic",
   "values":[{"year":2012,"month":1,"date":1,"utc":true},{"year":2014,"month":1,"date":1,"utc":true},{"year":2016,"month":1,"date":1,"utc":true},{"year":2018,"month":1,"date":1,"utc":true},{"year":2020,"month":1,"date":1,"utc":true},{"year":2022,"month":1,"date":1,"utc":true},{"year":2024,"month":1,"date":1,"utc":true}]}},
 "y":{"field":"v","type":"quantitative","scale":{"domain":[-41,1341],"nice":false,"zero":false},"axis":{"title":null,"format":"d","values":[0,200,400,600,800,1000,1200]}},
 "color":{"field":"s","type":"nominal","scale":{"domain":["liyuan","hs300","chuangyeban","jishujingxiao","huaqiang","aishide","synnex","arrow","nsit","shenzhou"],"range":["#1f77b4","#ff7f0e","#2ca02c","#d62728","#9467bd","#8c564b","#e377c2","#7f7f7f","#bcbd22","#17becf"]},"legend":{"title":null}}
}
}
